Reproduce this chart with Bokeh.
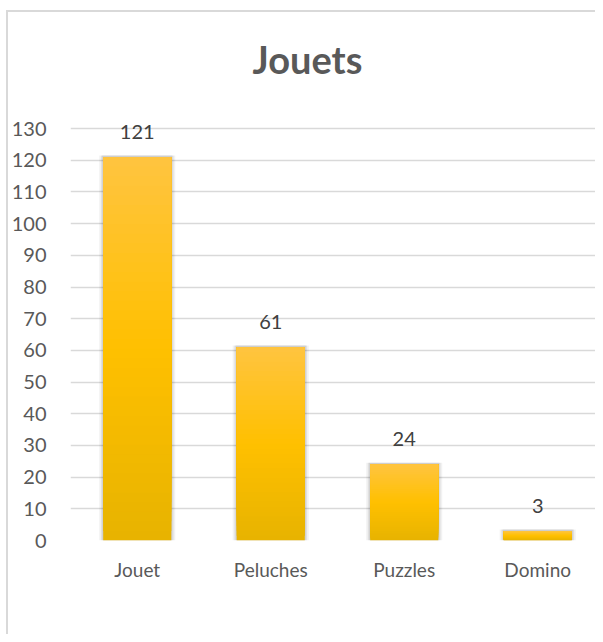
from bokeh.plotting import figure
from bokeh.models import Range1d, FixedTicker, Label, ColumnDataSource
from bokeh.embed import file_html
from bokeh.resources import INLINE
from bokeh.core.properties import value

categories = ["Jouet", "Peluches", "Puzzles", "Domino"]
counts = [121, 61, 24, 3]
y_ticks = list(range(0, 131, 10))
title_text = "Jouets"

FONT = "Lato"
positions = [i + 0.5 for i in range(len(categories))]

p = figure(width=595, height=634,
           x_range=Range1d(0, 3.933),
           y_range=Range1d(0, 160),
           output_backend="svg", toolbar_location=None,
           min_border_left=70, min_border_right=0,
           min_border_top=33, min_border_bottom=94)
p.styles = {
    "background-color": "white",
    "background-image": "linear-gradient(#d9d9d9, #d9d9d9), linear-gradient(#d9d9d9, #d9d9d9)",
    "background-size": "2px 100%, 100% 2px",
    "background-position": "6px 10px, 6px 10px",
    "background-repeat": "no-repeat",
}
p.outline_line_color = None
p.background_fill_color = None
p.border_fill_color = None

# grid
p.xgrid.grid_line_color = None
p.ygrid.grid_line_color = "#d9d9d9"
p.ygrid.grid_line_width = 1.6
p.yaxis.ticker = FixedTicker(ticks=y_ticks)
p.xaxis.ticker = FixedTicker(ticks=positions)
p.xaxis.major_label_overrides = {pos: cat for pos, cat in zip(positions, categories)}

for ax in (p.xaxis, p.yaxis):
    ax.axis_line_color = None
    ax.major_tick_line_color = None
    ax.minor_tick_line_color = None
    ax.major_tick_out = 0
    ax.major_tick_in = 0
    ax.major_label_text_font = FONT
    ax.major_label_text_color = "#595959"
p.yaxis.major_label_text_font_size = "20px"
p.xaxis.major_label_text_font_size = "19px"
p.yaxis.major_label_standoff = 24
p.xaxis.major_label_standoff = 17

# shadows
for extra, alpha in ((0.06, 0.05), (0.035, 0.07), (0.015, 0.08)):
    p.vbar(x=positions, top=[c + 0.5 for c in counts], bottom=0, width=0.51 + extra,
           fill_color="black", fill_alpha=alpha, line_color=None)

# gradient bars built from slices
n = 40
top_c = (255, 196, 64)
mid_c = (255, 192, 0)
bot_c = (231, 179, 0)

def grad(t):
    if t < 0.5:
        a, b, f = bot_c, mid_c, t / 0.5
    else:
        a, b, f = mid_c, top_c, (t - 0.5) / 0.5
    r = [round(a[k] + (b[k] - a[k]) * f) for k in range(3)]
    return "#%02x%02x%02x" % tuple(r)

xs, tops, bottoms, colors = [], [], [], []
for i in range(n):
    t = (i + 0.5) / n
    col = grad(t)
    for pos, c in zip(positions, counts):
        xs.append(pos)
        tops.append(c)
        bottoms.append(c * i / n)
        colors.append(col)
src = ColumnDataSource(dict(x=xs, top=tops, bottom=bottoms, color=colors))
p.vbar(x="x", top="top", bottom="bottom", width=0.51, fill_color="color",
       line_color=None, source=src)

# data labels
p.text(x=positions, y=counts, text=[str(c) for c in counts],
       text_align="center", text_baseline="alphabetic", y_offset=-25,
       text_font=value(FONT), text_font_size="20px", text_color="#404040")

# title
p.add_layout(Label(x=1.775, y=152.1, text=title_text, text_align="center",
                   text_baseline="alphabetic", text_font=FONT, text_font_style="bold",
                   text_font_size="38px", text_color="#595959"))

open("out.html", "w").write(file_html(p, INLINE))
